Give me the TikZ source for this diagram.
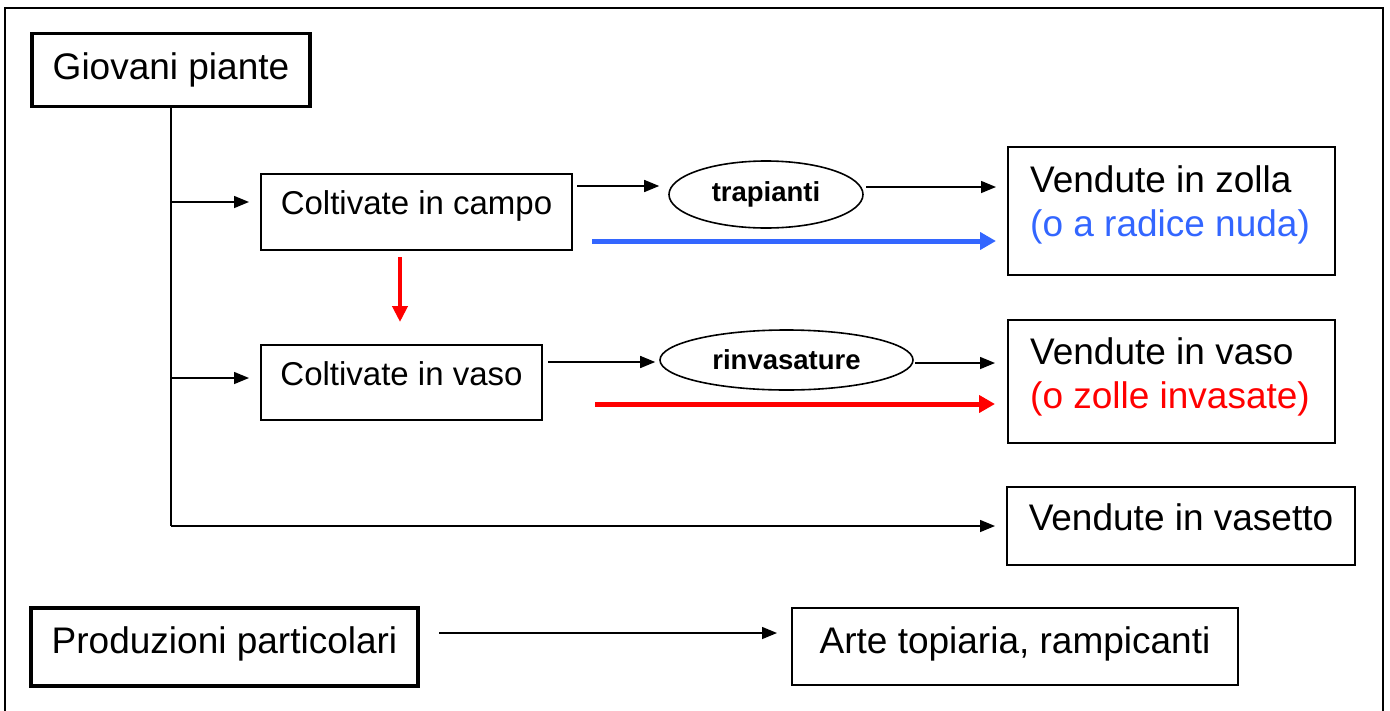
\documentclass[tikz,border=0pt]{standalone}
\usepackage{fontspec}
\setmainfont{Liberation Sans}
\usetikzlibrary{arrows.meta,shapes.geometric,calc}
\definecolor{myblue}{RGB}{51,102,255}
\definecolor{myred}{RGB}{255,0,0}
\begin{document}
\begin{tikzpicture}[x=1pt,y=-1pt,
  box/.style={draw,line width=2pt,rectangle,inner sep=0pt},
  thickbox/.style={draw,line width=3.5pt,rectangle,inner sep=0pt},
  oval/.style={draw,line width=1.6pt,ellipse,inner sep=0pt},
  big/.style={font=\fontsize{37}{44}\selectfont},
  mid/.style={font=\fontsize{33}{40}\selectfont},
  bld/.style={font=\fontsize{27.5}{32}\selectfont\bfseries},
  arr/.style={line width=1.5pt,-{Triangle[length=15pt,width=12pt]}},
  fat/.style={line width=5pt,-{Triangle[length=16pt,width=17pt]}}]
\useasboundingbox (0,0) rectangle (1390,710);
\draw[line width=1.5pt] (5,8) rectangle (1383,716);
% nodes
\node[thickbox,big,minimum width=278pt,minimum height=73pt] (gp) at (171,70) {Giovani piante};
\node[box,mid,minimum width=311pt,minimum height=76pt,text height=24pt,text depth=20pt] (campo) at (416.5,212) {Coltivate in campo};
\node[box,mid,minimum width=281pt,minimum height=75pt,text height=24pt,text depth=19pt] (vaso) at (401.5,382.5) {Coltivate in vaso};
\node[oval,bld,minimum width=194pt,minimum height=67pt] (trap) at (766,194.5) {trapianti};
\node[oval,bld,minimum width=253pt,minimum height=60pt] (rinv) at (786.5,360) {rinvasature};
\node[box,minimum width=327pt,minimum height=128pt] (zolla) at (1171.5,211) {};
\node[box,minimum width=327pt,minimum height=123pt] (vbox) at (1171.5,381.5) {};
\node[box,big,minimum width=348pt,minimum height=78pt,text height=27pt,text depth=19pt] (vasetto) at (1181,526) {Vendute in vasetto};
\node[thickbox,big,minimum width=387pt,minimum height=78pt,text height=27pt,text depth=15pt] (prod) at (224.5,647) {Produzioni particolari};
\node[box,big,minimum width=446pt,minimum height=77pt,text height=27pt,text depth=14pt] (arte) at (1015,646.5) {Arte topiaria, rampicanti};
% texts in right boxes
\node[big,anchor=base west,inner sep=0pt] (z1) at (1030,192) {Vendute in zolla};
\node[big,anchor=base west,inner sep=0pt,text=myblue] (z2) at (1030,236) {(o a radice nuda)};
\node[big,anchor=base west,inner sep=0pt] (v1) at (1030,364) {Vendute in vaso};
\node[big,anchor=base west,inner sep=0pt,text=myred] (v2) at (1030,408) {(o zolle invasate)};
% coordinates
\coordinate (c1) at (577,186);
\coordinate (c2) at (866,187);
\coordinate (c3) at (592,241);
\coordinate (c4) at (400,257);
\coordinate (c5) at (548,362);
\coordinate (c6) at (915,363);
\coordinate (c7) at (595,404);
\coordinate (c8) at (439,633);
% connectors
\draw[line width=1.5pt] (gp.south) -- (gp.south |- vasetto.west);
\draw[arr,shorten >=11pt] (gp.south |- vasetto.west) -- (vasetto.west);
\draw[arr,shorten >=11pt] (gp.south |- 0,202) -- (campo.west |- 0,202);
\draw[arr,shorten >=11pt] (gp.south |- 0,378) -- (vaso.west |- 0,378);
\draw[arr,shorten >=9pt] (c1) -- (c1 -| trap.west);
\draw[arr,shorten >=11pt] (c2) -- (c2 -| zolla.west);
\draw[fat,myblue,shorten >=11pt] (c3) -- (c3 -| zolla.west);
\draw[myred,line width=4pt,-{Triangle[length=16pt,width=15pt]},shorten >=22pt] (c4) -- (c4 |- vaso.north);
\draw[arr,shorten >=4pt] (c5) -- (c5 -| rinv.west);
\draw[arr,shorten >=12pt] (c6) -- (c6 -| vbox.west);
\draw[fat,myred,shorten >=12pt] (c7) -- (c7 -| vbox.west);
\draw[arr,shorten >=14pt] (c8) -- (c8 -| arte.west);
\end{tikzpicture}
\end{document}
